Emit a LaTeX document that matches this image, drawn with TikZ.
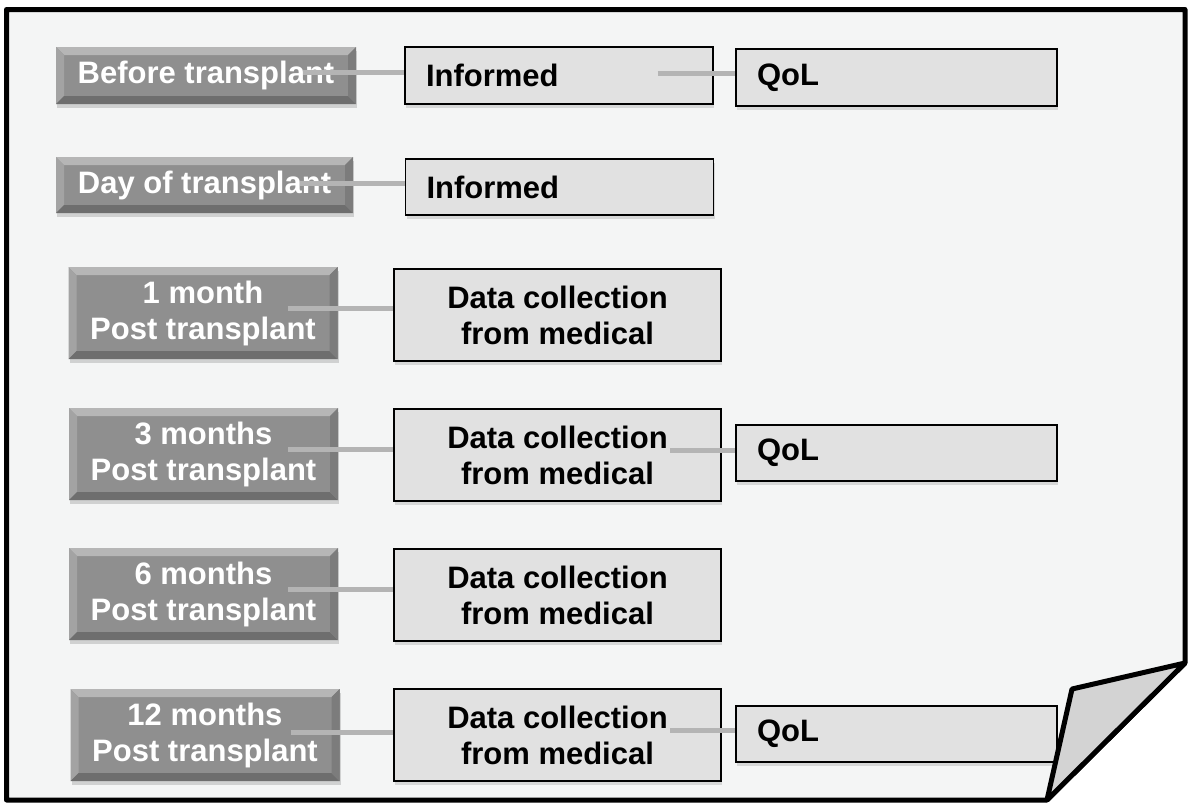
\documentclass[tikz,border=0pt]{standalone}
\usepackage{fontspec}
\setmainfont{Liberation Sans}
\usetikzlibrary{calc,shadows}
\definecolor{pagebg}{HTML}{F4F5F5}
\definecolor{flap}{HTML}{D3D3D3}
\definecolor{gface}{HTML}{8F8F8F}
\definecolor{gtop}{HTML}{B6B6B6}
\definecolor{gleft}{HTML}{A3A3A3}
\definecolor{gbot}{HTML}{6E6E6E}
\definecolor{gright}{HTML}{7C7C7C}
\definecolor{lbox}{HTML}{E1E1E1}
\definecolor{connc}{HTML}{B4B4B4}
\tikzset{
  bevel/.style={path picture={
    \path (path picture bounding box.north west) coordinate (bnw)
          (path picture bounding box.north east) coordinate (bne)
          (path picture bounding box.south west) coordinate (bsw)
          (path picture bounding box.south east) coordinate (bse);
    \fill[gtop] (bnw) -- (bne) -- ([shift={(-8pt,-8pt)}]bne) -- ([shift={(8pt,-8pt)}]bnw) -- cycle;
    \fill[gleft] (bnw) -- ([shift={(8pt,-8pt)}]bnw) -- ([shift={(8pt,8pt)}]bsw) -- (bsw) -- cycle;
    \fill[gbot] (bsw) -- ([shift={(8pt,8pt)}]bsw) -- ([shift={(-8pt,8pt)}]bse) -- (bse) -- cycle;
    \fill[gright] (bse) -- ([shift={(-8pt,8pt)}]bse) -- ([shift={(-8pt,-8pt)}]bne) -- (bne) -- cycle;
  }},
  gbox/.style={bevel, fill=gface, inner sep=0pt, text=white, align=center,
    font=\fontsize{31}{36}\selectfont\bfseries,
    drop shadow={shadow xshift=1pt, shadow yshift=-4pt, opacity=0.3}},
  gsmall/.style={gbox, minimum width=300pt, minimum height=57pt},
  gbig/.style={gbox, minimum width=269pt, minimum height=92pt},
  lbase/.style={fill=lbox, draw=black, line width=1.4pt, text=black,
    font=\fontsize{31}{36}\selectfont\bfseries,
    drop shadow={shadow xshift=1pt, shadow yshift=-4pt, opacity=0.25}},
  infobox/.style={lbase, minimum height=57pt, text width=266pt, inner xsep=21pt, inner ysep=0pt, align=left},
  qolbox/.style={lbase, minimum height=56pt, text width=279pt, inner xsep=21pt, inner ysep=0pt, align=left},
  databox/.style={lbase, minimum width=327pt, minimum height=92pt, inner sep=0pt, align=center},
  conn/.style={draw=connc, line width=5pt}
}
\begin{document}
\begin{tikzpicture}[x=1pt,y=-1pt]
\useasboundingbox (0,0) rectangle (1194,803);
% page
\filldraw[fill=pagebg, draw=black, line width=5pt, line join=round]
  (6.5,9.5) -- (1185,9.5) -- (1185,663) -- (1047,800) -- (6.5,800) -- cycle;
% left boxes
\node[gsmall] (g1) at (206,75.5) {Before transplant};
\node[gsmall, minimum width=297pt, minimum height=56pt] (g2) at (204.5,185) {Day of transplant};
\node[gbig] (g3) at (203,313) {1 month\\Post transplant};
\node[gbig] (g4) at (203.5,454) {3 months\\Post transplant};
\node[gbig] (g5) at (203.5,594) {6 months\\Post transplant};
\node[gbig] (g6) at (205,735) {12 months\\Post transplant};
% middle boxes
\node[infobox] (i1) at (559,75.5) {Informed};
\node[infobox, minimum height=56pt] (i2) at (559.5,187) {Informed};
\node[databox] (d3) at (557.5,315) {Data collection\\from medical};
\node[databox] (d4) at (557.5,455) {Data collection\\from medical};
\node[databox] (d5) at (557.5,595) {Data collection\\from medical};
\node[databox] (d6) at (557.5,735) {Data collection\\from medical};
% QoL boxes
\node[qolbox, minimum height=57pt] (q1) at (896.5,77.5) {QoL};
\node[qolbox] (q4) at (896.5,453) {QoL};
\node[qolbox] (q6) at (896.5,734) {QoL};
% connectors
\coordinate (c1) at ($(g1.east)+(-53,-3.5)$);
\coordinate (c2) at ($(g2.east)+(-53,-2)$);
\coordinate (c3) at ($(g3.east)+(-50,-5)$);
\coordinate (c4) at ($(g4.east)+(-50,-5)$);
\coordinate (c5) at ($(g5.east)+(-50,-5)$);
\coordinate (c6) at ($(g6.east)+(-49,-3)$);
\coordinate (e1) at ($(i1.east)+(-56,-2.5)$);
\coordinate (e4) at ($(d4.east)+(-52,-5)$);
\coordinate (e6) at ($(d6.east)+(-52,-5)$);
\draw[conn] (c1) -- (c1 -| i1.west);
\draw[conn] (c2) -- (c2 -| i2.west);
\draw[conn] (c3) -- (c3 -| d3.west);
\draw[conn] (c4) -- (c4 -| d4.west);
\draw[conn] (c5) -- (c5 -| d5.west);
\draw[conn] (c6) -- (c6 -| d6.west);
\draw[conn] (e1) -- (e1 -| q1.west);
\draw[conn] (e4) -- (e4 -| q4.west);
\draw[conn] (e6) -- (e6 -| q6.west);
% folded corner
\filldraw[fill=flap, draw=black, line width=5pt, line join=round]
  (1185,663) -- (1072,689) -- (1047,800) -- cycle;
\end{tikzpicture}
\end{document}
